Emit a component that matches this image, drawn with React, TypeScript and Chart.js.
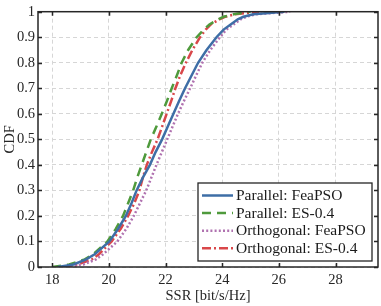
import React, { useEffect, useRef } from "react";
import { Chart, registerables } from "chart.js";
Chart.register(...registerables);

const cdfLevels = [0, 0.01, 0.03, 0.05, 0.1, 0.15, 0.2, 0.25, 0.3, 0.35, 0.4, 0.45, 0.5, 0.55, 0.6, 0.65, 0.7, 0.75, 0.8, 0.85, 0.9, 0.93, 0.95, 0.97, 0.98, 0.99, 1];

const parallelFeaPSO = [18.2, 18.75, 19.2, 19.5, 20.02, 20.33, 20.6, 20.8, 20.98, 21.2, 21.45, 21.65, 21.88, 22.08, 22.28, 22.48, 22.69, 22.92, 23.15, 23.45, 23.8, 24.05, 24.3, 24.55, 24.75, 25.1, 26.2];
const parallelES = [18.0, 18.6, 19.15, 19.45, 19.95, 20.25, 20.5, 20.68, 20.86, 21.0, 21.16, 21.32, 21.48, 21.68, 21.87, 22.05, 22.22, 22.4, 22.57, 22.8, 23.1, 23.35, 23.55, 23.85, 24.05, 24.4, 25.0];
const orthogonalFeaPSO = [18.5, 19.1, 19.55, 19.8, 20.3, 20.62, 20.88, 21.1, 21.32, 21.5, 21.68, 21.87, 22.06, 22.25, 22.44, 22.65, 22.87, 23.08, 23.3, 23.58, 23.92, 24.15, 24.4, 24.65, 24.85, 25.2, 26.4];
const orthogonalES = [18.4, 18.9, 19.4, 19.65, 20.1, 20.42, 20.68, 20.9, 21.08, 21.2, 21.34, 21.52, 21.72, 21.88, 22.04, 22.2, 22.35, 22.52, 22.72, 22.95, 23.22, 23.42, 23.6, 23.9, 24.1, 24.45, 25.3];

const seriesLabels = ["Parallel: FeaPSO", "Parallel: ES-0.4", "Orthogonal: FeaPSO", "Orthogonal: ES-0.4"];
const xTicks = [18, 20, 22, 24, 26, 28];
const yTicks = [0, 0.1, 0.2, 0.3, 0.4, 0.5, 0.6, 0.7, 0.8, 0.9, 1];
const yTickLabels = ["0", "0.1", "0.2", "0.3", "0.4", "0.5", "0.6", "0.7", "0.8", "0.9", "1"];
const xTitle = "SSR [bit/s/Hz]";
const yTitle = "CDF";

const FONT = '"Liberation Serif", "Times New Roman", serif';

export default function App() {
  const ref = useRef<HTMLCanvasElement>(null);
  useEffect(() => {
    if (!ref.current) return;
    const pts = (xs: number[]) => xs.map((x, i) => ({ x, y: cdfLevels[i] }));
    const styles = [
      { color: "#3e6ea6", dash: [] as number[], width: 2.5 },
      { color: "#4f9a3c", dash: [9, 6], width: 2.5 },
      { color: "#b072b0", dash: [2, 2.2], width: 2.5 },
      { color: "#d9474a", dash: [9, 3, 2, 3], width: 2.5 },
    ];
    const seriesData = [parallelFeaPSO, parallelES, orthogonalFeaPSO, orthogonalES];

    const framePlugin = {
      id: "frame",
      afterDatasetsDraw(chart: any) {
        const { ctx, chartArea: a, scales } = chart;
        ctx.save();
        ctx.strokeStyle = "#262626";
        ctx.lineWidth = 1.5;
        ctx.setLineDash([]);
        const tl = 4;
        ctx.beginPath();
        xTicks.forEach((v) => {
          const px = Math.round(scales.x.getPixelForValue(v)) + 0.5;
          ctx.moveTo(px, a.bottom); ctx.lineTo(px, a.bottom - tl);
          ctx.moveTo(px, a.top); ctx.lineTo(px, a.top + tl);
        });
        yTicks.forEach((v) => {
          const py = Math.round(scales.y.getPixelForValue(v)) + 0.5;
          ctx.moveTo(a.left, py); ctx.lineTo(a.left + tl, py);
          ctx.moveTo(a.right, py); ctx.lineTo(a.right - tl, py);
        });
        ctx.stroke();
        ctx.strokeRect(a.left, a.top, a.right - a.left, a.bottom - a.top);

        // legend
        const bw = 174, bh = 78;
        const bx = a.right - 6 - bw, by = a.bottom - 6 - bh;
        ctx.fillStyle = "#ffffff";
        ctx.fillRect(bx, by, bw, bh);
        ctx.lineWidth = 1.3;
        ctx.strokeStyle = "#262626";
        ctx.strokeRect(bx, by, bw, bh);
        ctx.font = "15.5px " + FONT;
        ctx.textBaseline = "middle";
        ctx.textAlign = "left";
        chart.data.datasets.forEach((ds: any, i: number) => {
          const cy = by + 12.5 + i * 17.6;
          ctx.save();
          ctx.strokeStyle = ds.borderColor;
          ctx.lineWidth = ds.borderWidth;
          ctx.setLineDash(ds.borderDash || []);
          ctx.beginPath();
          ctx.moveTo(bx + 4, cy);
          ctx.lineTo(bx + 35, cy);
          ctx.stroke();
          ctx.restore();
          ctx.fillStyle = "#1a1a1a";
          ctx.fillText(ds.label, bx + 38, cy + 0.5);
        });
        ctx.restore();
      },
    };

    const chart = new Chart(ref.current, {
      type: "scatter",
      data: {
        datasets: seriesData.map((s, i) => ({
          label: seriesLabels[i],
          data: pts(s),
          showLine: true,
          borderColor: styles[i].color,
          backgroundColor: styles[i].color,
          borderWidth: styles[i].width,
          borderDash: styles[i].dash,
          pointRadius: 0,
          tension: 0,
          fill: false,
        })),
      },
      options: {
        animation: false,
        responsive: false,
        layout: { padding: { left: 0, right: 3, top: 5, bottom: 0 } },
        plugins: { legend: { display: false }, tooltip: { enabled: false } },
        scales: {
          x: {
            type: "linear",
            min: 17.5,
            max: 29.5,
            afterBuildTicks: (s: any) => { s.ticks = xTicks.map((v) => ({ value: v })); },
            afterFit: (s: any) => { s.height = 39; },
            grid: { color: "#d6d6d6", lineWidth: 1, drawTicks: false, tickLength: 0 },
            border: { display: false, dash: [4, 3] },
            ticks: { font: { family: FONT, size: 14.5 }, color: "#262626", padding: 4, maxRotation: 0, callback: (v: any) => String(v) },
            title: { display: true, text: xTitle, font: { family: FONT, size: 14.5 }, color: "#262626", padding: { top: 0, bottom: 1 } },
          },
          y: {
            type: "linear",
            min: 0,
            max: 1,
            afterBuildTicks: (s: any) => { s.ticks = yTicks.map((v) => ({ value: v })); },
            afterFit: (s: any) => { s.width = 38; },
            grid: { color: "#d6d6d6", lineWidth: 1, drawTicks: false, tickLength: 0 },
            border: { display: false, dash: [4, 3] },
            ticks: { font: { family: FONT, size: 14.5 }, color: "#262626", padding: 3, callback: (v: any) => yTickLabels[yTicks.findIndex((t) => Math.abs(t - v) < 1e-6)] ?? "" },
            title: { display: true, text: yTitle, font: { family: FONT, size: 14.5 }, color: "#262626", padding: { top: 1, bottom: 0 } },
          },
        },
      },
      plugins: [framePlugin],
    } as any);
    return () => chart.destroy();
  }, []);

  return (
    <div style={{ position: "absolute", left: 0, top: 0, width: 381, height: 306, background: "#fff" }}>
      <canvas ref={ref} width={381} height={306} style={{ display: "block" }} />
    </div>
  );
}
